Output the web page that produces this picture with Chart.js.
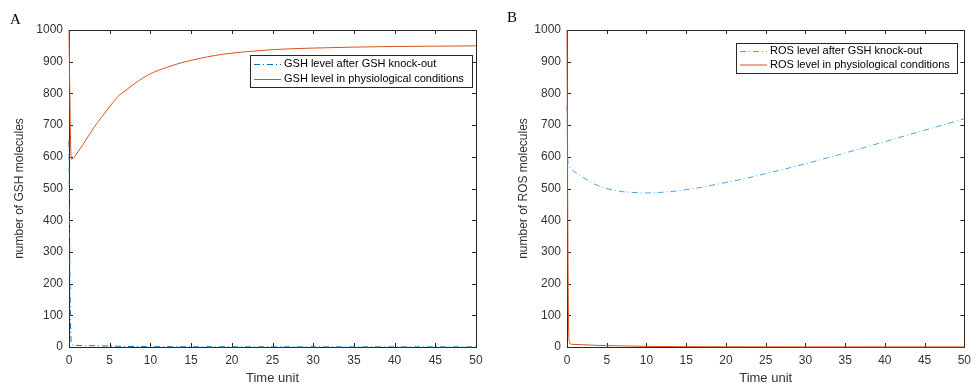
<!DOCTYPE html>
<html>
<head>
<meta charset="utf-8">
<script src="https://cdn.jsdelivr.net/npm/chart.js@4/dist/chart.umd.min.js"></script>
<style>
  body { margin: 0; background: #fff; }
  #wrap { position: relative; width: 977px; height: 386px; overflow: hidden; }
  canvas { position: absolute; top: 0; }
  .letter { position: absolute; font-family: "Liberation Serif", "Times New Roman", serif; font-size: 15px; color: #000; }
</style>
</head>
<body>
<div id="wrap">
  <canvas id="chartA" width="490" height="386" style="left:0"></canvas>
  <canvas id="chartB" width="487" height="386" style="left:490px"></canvas>
  <div class="letter" style="left:10px;top:11px">A</div>
  <div class="letter" style="left:507px;top:9px">B</div>
</div>
<script>
// time points (Time unit)
const timePoints = [0, 0.1, 0.2, 0.3, 0.5, 1, 2, 3, 4, 5, 6, 7, 8, 10, 12, 14, 16, 18, 20, 22.5, 25, 27.5, 30, 35, 40, 45, 50];

// panel A - GSH
const gshKnockout = [650, 250, 60, 12, 6, 5, 4, 4, 3.5, 3, 2.5, 2, 1.5, 1, 0.8, 0.7, 0.6, 0.5, 0.5, 0.4, 0.4, 0.4, 0.3, 0.3, 0.3, 0.3, 0.3];
const gshPhysio = [1000, 800, 640, 592, 595, 612, 650, 690, 725, 758, 790, 810, 830, 862, 882, 898, 910, 920, 927, 933, 938, 941, 943, 946, 948, 949, 950];

// panel B - ROS
const rosKnockout = [760, 600, 575, 568, 562, 552, 535, 520, 508, 500, 494, 490, 488, 486, 488, 493, 500, 509, 519, 532, 547, 562, 578, 612, 648, 684, 720];
const rosPhysio = [1000, 400, 60, 15, 9, 8, 7, 6, 5, 4.5, 4, 3.5, 3, 2, 1.5, 1.2, 1, 0.8, 0.7, 0.6, 0.5, 0.5, 0.4, 0.4, 0.3, 0.3, 0.3];

const labelsA = ['GSH level after GSH knock-out', 'GSH level in physiological conditions'];
const labelsB = ['ROS level after GSH knock-out', 'ROS level in physiological conditions'];

const textColor = '#333';
const font = 'Liberation Sans, Arial, Helvetica, sans-serif';

function toPoints(arr) {
    return timePoints.map((t, i) => ({ x: t, y: arr[i] }));
}

// matlab-like box with inward ticks, plus a boxed legend
const matlabBox = {
    id: 'matlabBox',
    beforeDatasetsDraw(chart) {
        const ctx = chart.ctx;
        const a = chart.chartArea;
        const xs = chart.scales.x, ys = chart.scales.y;
        ctx.save();
        ctx.strokeStyle = '#262626';
        ctx.lineWidth = 1;
        ctx.strokeRect(Math.round(a.left) + 0.5, Math.round(a.top) + 0.5, Math.round(a.right - a.left), Math.round(a.bottom - a.top));
        ctx.beginPath();
        xs.ticks.forEach(t => {
            const px = Math.round(xs.getPixelForValue(t.value)) + 0.5;
            ctx.moveTo(px, a.bottom); ctx.lineTo(px, a.bottom - 4);
            ctx.moveTo(px, a.top); ctx.lineTo(px, a.top + 4);
        });
        ys.ticks.forEach(t => {
            const py = Math.round(ys.getPixelForValue(t.value)) + 0.5;
            ctx.moveTo(a.left, py); ctx.lineTo(a.left + 4, py);
            ctx.moveTo(a.right, py); ctx.lineTo(a.right - 4, py);
        });
        ctx.stroke();
        ctx.restore();
    },
    afterDraw(chart, args, opts) {
        const ctx = chart.ctx;
        const lg = opts.legend;
        ctx.save();
        ctx.lineWidth = 1;
        ctx.fillStyle = '#fff';
        ctx.fillRect(lg.x, lg.y, lg.w, lg.h);
        ctx.strokeStyle = '#262626';
        ctx.strokeRect(lg.x + 0.5, lg.y + 0.5, lg.w, lg.h);
        ctx.font = '11px ' + font;
        ctx.textBaseline = 'middle';
        chart.data.datasets.forEach((ds, i) => {
            const y = lg.y + lg.rowTop + i * lg.rowGap;
            ctx.strokeStyle = ds.borderColor;
            ctx.setLineDash(ds.borderDash || []);
            ctx.beginPath();
            ctx.moveTo(lg.x + 4, y + 0.5);
            ctx.lineTo(lg.x + 31, y + 0.5);
            ctx.stroke();
            ctx.setLineDash([]);
            ctx.fillStyle = '#000';
            ctx.fillText(ds.label, lg.x + 34, y);
        });
        ctx.restore();
    }
};

function makeChart(id, dataBlue, dataRed, labels, blueColor, yTitle, axisW, padRight, titlePad, legend) {
    return new Chart(document.getElementById(id), {
        type: 'line',
        data: {
            datasets: [
                {
                    label: labels[0],
                    data: toPoints(dataBlue),
                    borderColor: blueColor,
                    borderDash: [6, 3, 1, 3],
                    borderWidth: 1,
                    pointRadius: 0,
                    cubicInterpolationMode: 'monotone',
                    clip: 2,
                    order: 1
                },
                {
                    label: labels[1],
                    data: toPoints(dataRed),
                    borderColor: '#D95319',
                    borderWidth: 1,
                    pointRadius: 0,
                    cubicInterpolationMode: 'monotone',
                    clip: 2,
                    order: 0
                }
            ]
        },
        options: {
            responsive: false,
            animation: false,
            layout: { padding: { top: 30, right: padRight, bottom: 0, left: 0 } },
            plugins: {
                legend: { display: false },
                tooltip: { enabled: false },
                matlabBox: { legend: legend }
            },
            scales: {
                x: {
                    type: 'linear',
                    min: 0, max: 50,
                    grid: { display: false, drawTicks: false },
                    border: { display: false },
                    ticks: { stepSize: 5, color: textColor, font: { family: font, size: 12 }, padding: 6, maxRotation: 0,
                             callback: v => String(v) },
                    title: { display: true, text: 'Time unit', color: textColor, font: { family: font, size: 13 }, padding: 0 },
                    afterFit(scale) { scale.height = 39; }
                },
                y: {
                    min: 0, max: 1000,
                    grid: { display: false, drawTicks: false },
                    border: { display: false },
                    ticks: { stepSize: 100, color: textColor, font: { family: font, size: 12 }, padding: 6,
                             callback: v => String(v) },
                    title: { display: true, text: yTitle, color: textColor, font: { family: font, size: 12 }, padding: { top: titlePad, bottom: 0 } },
                    afterFit(scale) { scale.width = axisW; }
                }
            }
        },
        plugins: [matlabBox]
    });
}

makeChart('chartA', gshKnockout, gshPhysio, labelsA, '#0072BD', 'number of GSH molecules', 69, 14, 12,
    { x: 250, y: 55, w: 222, h: 32, rowTop: 9, rowGap: 15 });
makeChart('chartB', rosKnockout, rosPhysio, labelsB, '#4aa3df', 'number of ROS molecules', 77, 8, 26,
    { x: 246, y: 43, w: 221, h: 30, rowTop: 8, rowGap: 13.5 });
</script>
</body>
</html>
